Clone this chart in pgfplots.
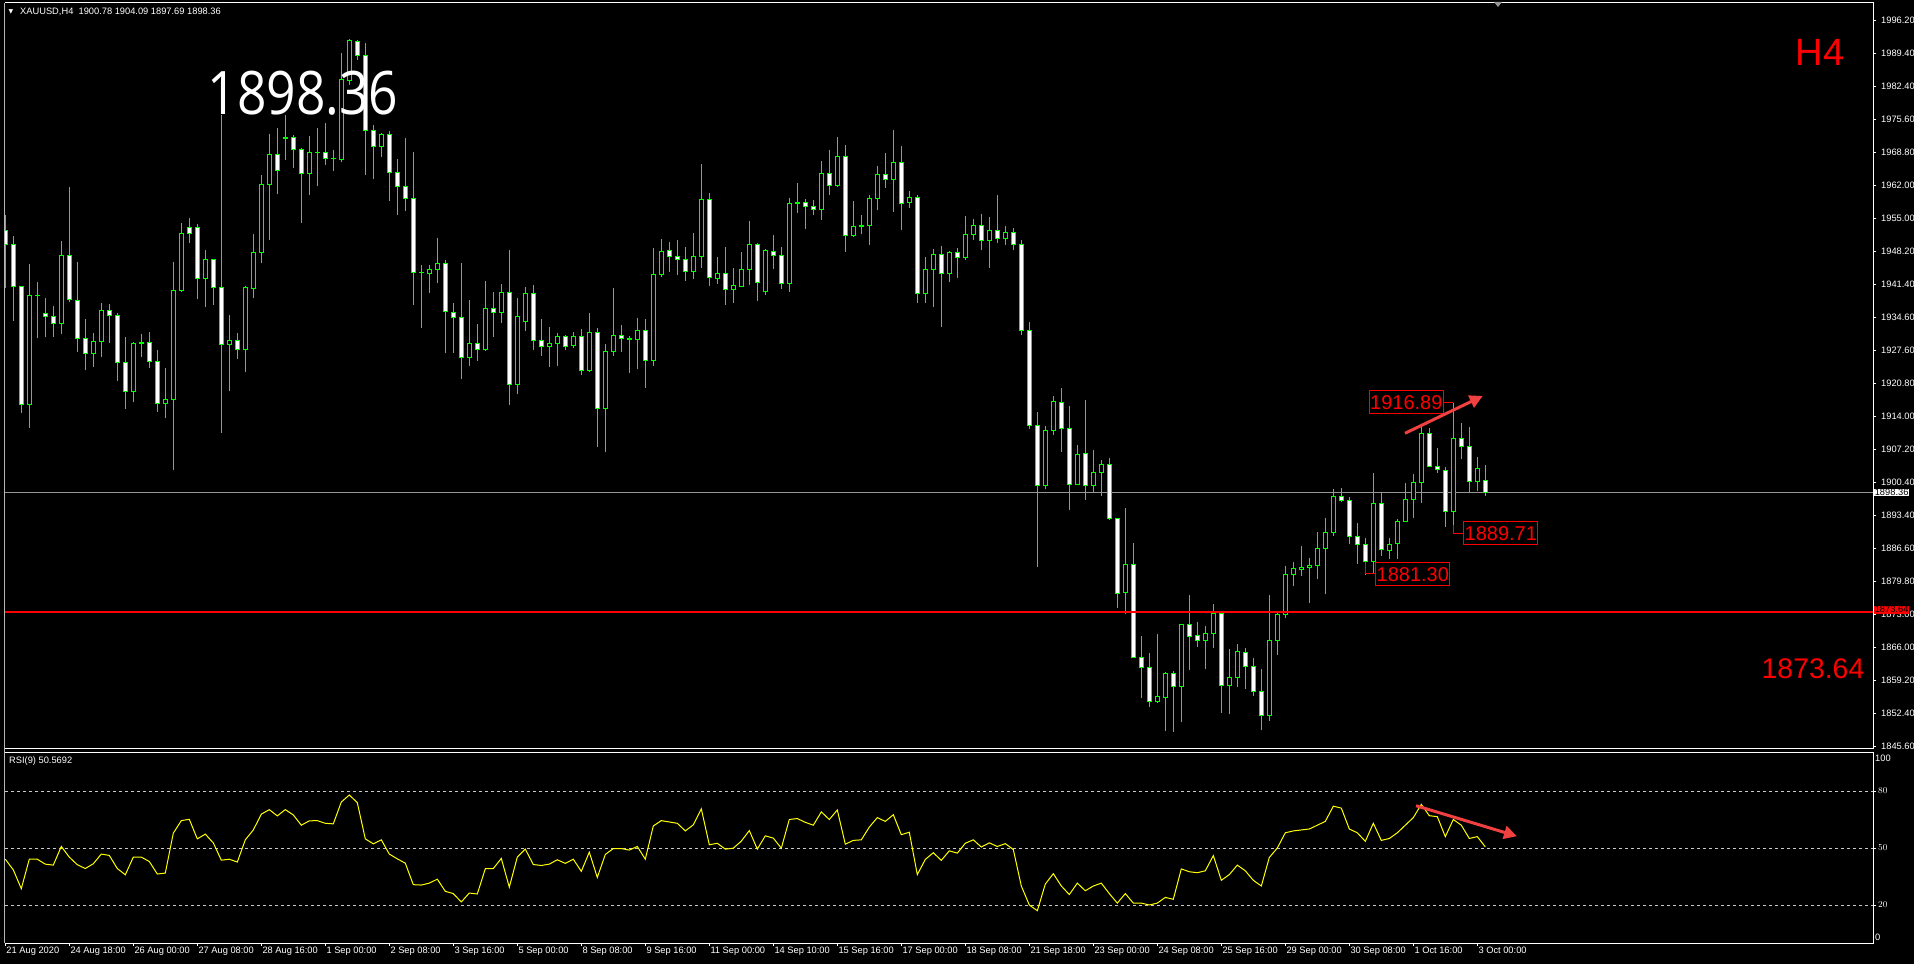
\documentclass[border=0pt]{standalone}
\usepackage{fontspec}
\setmainfont{Liberation Sans}
\newfontfamily\bigfont{Open Sans}
\newfontfamily\symfont{DejaVu Sans}
\usepackage{pgfplots}
\pgfplotsset{compat=1.18}
\usepackage{pgfplotstable}
\usetikzlibrary{arrows.meta}

\definecolor{lime}{RGB}{0,255,0}
\definecolor{rsiyel}{RGB}{255,255,0}
\definecolor{mtred}{RGB}{255,0,0}
\definecolor{arrowred}{RGB}{240,64,64}
\definecolor{pricegray}{RGB}{150,150,150}
\definecolor{dashgray}{RGB}{200,200,200}
\newcommand{\mtfont}{\fontsize{9.3}{10}\selectfont}

% XAUUSD H4 candles, bar index k (0 = 21 Aug 2020 ...), open high low close
\pgfplotstableread{
k o h l c
0 1952.72 1955.90 1940.69 1949.82
1 1949.82 1951.55 1933.98 1941.04
2 1941.04 1941.20 1914.83 1916.49
3 1916.60 1945.67 1911.72 1939.24
4 1939.30 1941.94 1930.32 1939.20
5 1935.37 1938.69 1930.53 1934.88
6 1934.88 1936.96 1930.67 1933.43
7 1933.43 1950.51 1931.15 1947.54
8 1947.54 1961.71 1937.93 1938.27
9 1938.20 1946.08 1927.55 1930.32
10 1930.32 1934.33 1923.82 1927.21
11 1927.21 1931.36 1924.44 1929.70
12 1929.70 1937.58 1926.52 1936.13
13 1936.13 1937.44 1929.42 1935.09
14 1935.09 1935.51 1921.54 1925.34
15 1925.34 1930.60 1915.66 1919.39
16 1919.39 1929.56 1917.10 1929.28
17 1929.28 1931.22 1926.52 1929.35
18 1929.42 1931.63 1924.10 1925.48
19 1925.48 1927.83 1915.03 1916.70
20 1916.70 1924.16 1913.79 1917.67
21 1917.67 1946.15 1903.00 1940.28
22 1940.28 1954.31 1940.00 1952.10
23 1953.28 1955.28 1950.16 1952.10
24 1953.28 1954.04 1938.41 1942.77
25 1942.77 1948.64 1936.89 1946.57
26 1946.57 1946.85 1937.30 1940.90
27 1940.90 1976.58 1910.68 1928.94
28 1928.94 1935.09 1919.32 1929.84
29 1929.84 1931.36 1926.10 1928.04
30 1928.04 1941.18 1923.27 1940.90
31 1940.69 1951.96 1938.76 1948.16
32 1948.16 1964.20 1945.88 1962.27
33 1962.27 1972.71 1950.72 1968.49
34 1968.49 1973.88 1960.33 1965.17
35 1971.80 1976.58 1967.31 1971.90
36 1972.01 1972.43 1965.72 1969.53
37 1969.53 1969.80 1954.31 1964.55
38 1964.55 1972.29 1960.12 1968.83
39 1968.90 1974.02 1961.99 1968.83
40 1968.90 1974.92 1966.34 1967.66
41 1967.66 1969.38 1965.03 1967.55
42 1967.45 1989.51 1966.80 1984.05
43 1983.90 1992.41 1982.87 1992.00
44 1991.85 1992.20 1988.05 1989.09
45 1989.09 1991.58 1964.20 1973.33
46 1973.33 1974.57 1963.37 1970.08
47 1970.08 1972.98 1968.00 1972.70
48 1972.70 1973.32 1958.81 1964.68
49 1964.75 1967.52 1955.90 1961.78
50 1961.85 1971.87 1956.80 1959.29
51 1959.36 1968.97 1937.23 1943.94
52 1943.94 1945.53 1932.53 1943.90
53 1943.73 1945.53 1939.79 1944.63
54 1944.56 1951.13 1941.73 1945.74
55 1945.74 1946.57 1927.21 1935.85
56 1935.71 1937.65 1927.35 1934.67
57 1934.67 1945.88 1921.95 1926.31
58 1926.31 1938.27 1924.58 1929.28
59 1929.28 1933.29 1925.69 1927.97
60 1927.97 1942.21 1927.76 1936.54
61 1936.54 1939.93 1930.66 1935.64
62 1935.64 1941.59 1933.57 1939.86
63 1939.86 1948.64 1916.56 1920.78
64 1920.78 1938.69 1918.84 1934.88
65 1933.78 1940.97 1931.91 1939.52
66 1939.52 1941.38 1927.90 1929.83
67 1929.90 1934.33 1926.72 1928.59
68 1928.59 1932.67 1924.44 1929.28
69 1929.28 1931.36 1924.65 1930.73
70 1930.73 1931.01 1927.90 1928.59
71 1928.80 1931.63 1928.31 1930.73
72 1930.73 1932.25 1922.71 1923.61
73 1923.61 1935.57 1923.40 1931.56
74 1931.56 1932.39 1907.85 1915.73
75 1915.73 1929.14 1906.67 1927.62
76 1927.55 1940.76 1926.72 1930.94
77 1930.94 1933.08 1927.55 1930.25
78 1930.25 1930.80 1923.20 1930.15
79 1930.04 1934.54 1923.89 1931.98
80 1931.98 1934.26 1920.09 1925.69
81 1925.69 1949.06 1924.65 1943.60
82 1943.53 1950.92 1943.11 1948.37
83 1948.57 1950.30 1944.07 1947.26
84 1947.39 1950.71 1943.45 1946.63
85 1946.70 1949.26 1942.28 1944.14
86 1944.14 1952.16 1942.62 1947.32
87 1947.26 1966.48 1944.97 1959.15
88 1959.15 1960.39 1941.24 1942.97
89 1942.69 1947.19 1941.65 1943.80
90 1943.80 1949.26 1937.30 1940.41
91 1940.41 1944.90 1937.71 1941.31
92 1941.03 1948.22 1940.90 1944.63
93 1944.56 1954.65 1941.45 1949.81
94 1949.81 1950.02 1938.13 1941.86
95 1939.99 1948.78 1939.37 1948.57
96 1948.36 1951.75 1944.70 1947.46
97 1947.53 1949.26 1940.62 1941.65
98 1941.65 1959.42 1939.99 1958.32
99 1958.32 1962.54 1956.38 1958.53
100 1958.53 1959.22 1953.06 1957.63
101 1957.70 1959.01 1955.90 1957.00
102 1957.00 1967.10 1954.93 1964.54
103 1964.54 1969.38 1960.05 1961.98
104 1961.98 1972.08 1961.78 1968.07
105 1968.07 1970.42 1948.29 1951.61
106 1951.61 1958.80 1951.40 1953.55
107 1953.55 1955.90 1952.03 1953.65
108 1953.69 1960.05 1949.74 1959.36
109 1959.29 1966.06 1957.00 1964.33
110 1964.33 1968.76 1961.57 1963.23
111 1963.23 1973.53 1956.59 1966.82
112 1966.82 1970.21 1952.86 1958.25
113 1958.46 1960.88 1957.42 1959.56
114 1959.56 1960.05 1937.71 1939.58
115 1939.58 1947.19 1937.71 1944.63
116 1944.56 1948.85 1936.88 1947.74
117 1947.74 1949.47 1932.73 1943.73
118 1943.73 1948.36 1942.07 1948.15
119 1948.15 1949.05 1942.90 1947.05
120 1947.05 1955.69 1946.63 1951.89
121 1951.82 1955.07 1950.78 1953.76
122 1953.76 1956.11 1948.64 1950.57
123 1950.57 1955.48 1944.97 1952.72
124 1952.72 1960.05 1950.16 1950.99
125 1951.07 1953.62 1949.68 1952.37
126 1952.37 1953.20 1948.64 1949.68
127 1949.68 1950.71 1931.01 1932.04
128 1932.04 1933.70 1911.51 1912.27
129 1912.27 1914.97 1882.95 1899.76
130 1899.76 1912.13 1899.00 1911.23
131 1911.23 1918.36 1910.27 1917.25
132 1917.04 1920.02 1906.81 1911.58
133 1911.65 1916.28 1894.71 1899.96
134 1899.96 1908.19 1899.90 1906.26
135 1906.46 1917.53 1896.78 1899.76
136 1899.76 1907.15 1898.51 1902.52
137 1902.52 1905.08 1897.61 1904.18
138 1904.18 1905.50 1892.63 1892.91
139 1892.98 1893.00 1874.45 1877.42
140 1877.56 1895.12 1873.13 1883.44
141 1883.44 1887.86 1864.10 1864.14
142 1864.14 1868.57 1855.78 1862.07
143 1862.07 1865.04 1853.91 1854.95
144 1854.95 1868.99 1854.74 1856.05
145 1855.78 1861.17 1848.93 1860.83
146 1860.83 1861.38 1848.73 1858.06
147 1858.06 1871.00 1850.80 1870.99
148 1870.99 1877.08 1861.52 1868.43
149 1868.71 1871.47 1866.36 1867.60
150 1867.60 1870.65 1861.72 1869.12
151 1869.05 1875.21 1866.15 1873.27
152 1873.27 1873.83 1852.67 1858.27
153 1858.27 1865.87 1852.39 1860.00
154 1860.00 1866.91 1858.06 1865.39
155 1865.18 1866.08 1857.58 1862.21
156 1862.28 1863.94 1856.12 1857.02
157 1857.09 1861.72 1849.07 1852.04
158 1852.04 1877.08 1851.01 1867.67
159 1867.67 1873.55 1864.63 1873.07
160 1873.07 1883.09 1872.37 1881.36
161 1881.36 1883.92 1878.94 1882.61
162 1882.40 1887.24 1881.02 1882.81
163 1882.81 1884.75 1875.49 1883.23
164 1883.16 1890.14 1880.39 1886.76
165 1886.69 1893.05 1877.28 1890.08
166 1890.01 1899.06 1889.31 1897.54
167 1897.54 1899.27 1896.37 1896.71
168 1896.71 1897.34 1887.72 1889.18
169 1889.25 1891.94 1883.51 1887.59
170 1887.59 1888.83 1881.30 1883.99
171 1883.99 1902.31 1881.71 1896.09
172 1896.09 1898.17 1885.23 1886.41
173 1886.34 1888.83 1884.54 1887.59
174 1887.79 1892.84 1884.54 1892.36
175 1892.29 1900.24 1892.29 1896.92
176 1896.92 1902.18 1893.12 1900.45
177 1900.45 1912.34 1896.23 1910.61
178 1910.61 1911.65 1903.70 1903.77
179 1903.70 1907.50 1902.45 1903.01
180 1902.94 1903.56 1891.25 1894.43
181 1894.43 1916.89 1889.71 1909.57
182 1909.57 1912.69 1905.22 1907.92
183 1907.92 1911.86 1898.17 1900.65
184 1900.65 1905.63 1898.58 1903.35
185 1900.78 1904.09 1897.69 1898.36
}\candles
% derived columns for drawing: wick length, body base, up body, down body
\pgfplotstablecreatecol[expr={\thisrow{h}-\thisrow{l}}]{hl}\candles
\pgfplotstablecreatecol[expr={min(\thisrow{o},\thisrow{c})}]{base}\candles
\pgfplotstablecreatecol[expr={max(\thisrow{c}-\thisrow{o},0)}]{up}\candles
\pgfplotstablecreatecol[expr={max(\thisrow{o}-\thisrow{c},0)}]{dn}\candles

% RSI(9)
\pgfplotstableread{
k rsi
0 44.1
1 38.5
2 28.6
3 44.1
4 44.1
5 41.5
6 41.0
7 50.8
8 45.2
9 41.2
10 39.2
11 41.7
12 46.8
13 46.1
14 39.2
15 35.9
16 45.2
17 45.2
18 42.9
19 36.3
20 36.8
21 57.8
22 64.4
23 65.1
24 54.8
25 57.3
26 52.7
27 43.6
28 44.1
29 42.6
30 54.3
31 59.5
32 67.8
33 70.2
34 66.9
35 70.2
36 67.4
37 62.0
38 64.3
39 64.4
40 63.0
41 62.7
42 74.2
43 77.9
44 73.9
45 54.8
46 52.2
47 54.3
48 46.8
49 44.3
50 42.0
51 30.7
52 30.5
53 31.5
54 33.6
55 27.2
56 26.0
57 21.6
58 26.3
59 25.8
60 39.1
61 39.2
62 44.5
63 29.4
64 45.2
65 49.4
66 41.3
67 40.8
68 41.5
69 43.8
70 41.9
71 44.1
72 37.7
73 47.8
74 34.5
75 46.6
76 49.7
77 49.7
78 48.9
79 50.8
80 44.1
81 61.6
82 64.4
83 63.7
84 63.0
85 59.0
86 62.2
87 70.6
88 51.7
89 52.5
90 49.4
91 49.9
92 53.6
93 59.2
94 49.4
95 56.4
96 55.2
97 49.9
98 65.0
99 65.5
100 63.5
101 62.0
102 69.0
103 65.0
104 70.0
105 52.0
106 54.0
107 54.3
108 61.0
109 66.0
110 64.0
111 67.5
112 57.0
113 58.3
114 36.0
115 44.0
116 47.5
117 43.5
118 48.5
119 47.3
120 52.5
121 54.3
122 50.5
123 52.7
124 50.8
125 52.3
126 49.2
127 30.0
128 20.0
129 17.0
130 31.0
131 36.5
132 30.0
133 25.5
134 31.5
135 27.5
136 30.0
137 31.5
138 26.0
139 21.0
140 26.0
141 21.0
142 21.0
143 20.0
144 21.0
145 24.0
146 23.0
147 39.0
148 37.5
149 37.0
150 38.0
151 46.0
152 33.0
153 36.0
154 41.0
155 38.0
156 33.0
157 30.0
158 45.0
159 50.0
160 58.0
161 59.0
162 59.5
163 60.0
164 62.0
165 64.0
166 72.0
167 71.0
168 60.0
169 58.0
170 53.5
171 63.0
172 54.0
173 55.0
174 58.0
175 62.0
176 66.0
177 73.0
178 67.0
179 66.5
180 56.0
181 65.0
182 62.0
183 55.0
184 56.0
185 50.57
}\rsidata

\begin{document}
\begin{tikzpicture}[x=1pt,y=1pt]
\fill[black] (0,0) rectangle (1914,964);
\useasboundingbox (0,0) rectangle (1914,964);

\pgfplotsset{
  mainpanel/.style={at={(5pt,215pt)}, anchor=south west, scale only axis,
    width=1868pt, height=746pt, xmin=-0.0375, xmax=233.4625,
    ymin=1845.13, ymax=1999.88, clip bounding box=upper bound},
}

% wicks and current price line
\begin{axis}[mainpanel, hide axis]
  \addplot[pricegray, line width=1pt] coordinates {(-0.0375,1898.36) (233.4625,1898.36)};
  \addplot[draw=none, error bars/.cd, y dir=plus, y explicit, error mark=none,
    error bar style={draw=lime, solid, line width=1pt}]
    table[x=k, y=l, y error plus=hl] {\candles};
\end{axis}

% candle bodies: hollow = up, white = down
\begin{axis}[mainpanel, hide axis, ybar stacked, bar width=4pt]
  \addplot[draw=none, fill=none] table[x=k, y=base] {\candles};
  \addplot[draw=lime, fill=black, line width=1pt] table[x=k, y=up] {\candles};
  \addplot[draw=lime, fill=white, line width=1pt] table[x=k, y=dn] {\candles};
\end{axis}

% level line and price scale
\begin{axis}[mainpanel, axis line style={draw=none}, xtick=\empty,
    ytick pos=right, yticklabel pos=right, tick align=outside,
    major tick length=3pt, ytick style={white, line width=0.8pt},
    yticklabel style={overlay, font=\mtfont, text=white, anchor=west, inner sep=0pt, xshift=5pt},
    ytick={1996.20,1989.35,1982.51,1975.66,1968.82,1961.97,1955.13,1948.28,1941.44,1934.59,1927.75,1920.90,1914.05,1907.21,1900.36,1893.52,1886.67,1879.83,1872.98,1866.14,1859.29,1852.45,1845.60},
    yticklabels={1996.20,1989.40,1982.40,1975.60,1968.80,1962.00,1955.00,1948.20,1941.40,1934.60,1927.60,1920.80,1914.00,1907.20,1900.40,1893.40,1886.60,1879.80,1873.00,1866.00,1859.20,1852.40,1845.60}]
  \addplot[mtred, line width=2pt] coordinates {(-0.0375,1873.64) (233.4625,1873.64)};
\end{axis}

% RSI panel
\begin{axis}[at={(5pt,21pt)}, anchor=south west, scale only axis,
    width=1868pt, height=190pt, xmin=-0.0375, xmax=233.4625, ymin=0, ymax=100,
    clip bounding box=upper bound,
    axis line style={draw=none},
    ytick={20,50,80}, ytick pos=right, yticklabel pos=right,
    ymajorgrids, grid style={dashgray, dash pattern=on 3pt off 3pt, line width=0.8pt},
    xtick={0,8,...,184}, xtick pos=bottom, tick align=outside,
    major tick length=3pt, tick style={white, line width=0.8pt},
    yticklabel style={overlay, font=\mtfont, text=white, anchor=west, inner sep=0pt, xshift=2pt},
    xticklabel style={overlay, font=\mtfont, text=white, anchor=north west, inner sep=0pt, xshift=1pt, yshift=-1pt},
    xticklabels={21 Aug 2020, 24 Aug 18:00, 26 Aug 00:00, 27 Aug 08:00, 28 Aug 16:00,
      1 Sep 00:00, 2 Sep 08:00, 3 Sep 16:00, 5 Sep 00:00, 8 Sep 08:00, 9 Sep 16:00,
      11 Sep 00:00, 14 Sep 10:00, 15 Sep 16:00, 17 Sep 00:00, 18 Sep 08:00,
      21 Sep 18:00, 23 Sep 00:00, 24 Sep 08:00, 25 Sep 16:00, 29 Sep 00:00,
      30 Sep 08:00, 1 Oct 16:00, 3 Oct 00:00}]
  \addplot[rsiyel, line width=1pt] table[x=k, y=rsi] {\rsidata};
\end{axis}

% panel frames
\draw[white, line width=1pt] (5,961) -- (1873,961) -- (1873,215) -- (5,215);
\draw[white, line width=1pt] (5,211.5) -- (1873,211.5) -- (1873,21) -- (5,21);
\draw[pricegray!70!white, line width=1pt] (4.5,961) -- (4.5,21);

% chart header and indicator name
\node[text=white, inner sep=0pt, font=\symfont\fontsize{6}{6}\selectfont] at (11,952) {▼};
\node[anchor=west, text=white, inner sep=0pt, font=\mtfont] at (20,952) {XAUUSD,H4\ \ 1900.78 1904.09 1897.69 1898.36};
\node[anchor=west, text=white, inner sep=0pt, font=\mtfont] at (9,203.3) {RSI(9) 50.5692};
\fill[pricegray] (1494,962) -- (1502,962) -- (1498,957) -- cycle;

% RSI scale ends
\node[anchor=west, text=white, inner sep=0pt, font=\mtfont] at (1875,206) {100};
\node[anchor=west, text=white, inner sep=0pt, font=\mtfont] at (1875,27) {0};

% price tags on the scale
\node[anchor=west, fill=white, text=black, inner sep=0.6pt, font=\mtfont] at (1874,471.6) {1898.36};
\node[anchor=west, fill=mtred, text=black, inner sep=0.6pt, font=\mtfont] at (1874,354.3) {1873.64};

% annotations
\node[text=white, inner sep=0pt, font=\bigfont\fontsize{60}{60}\selectfont, xscale=0.86] at (303,870.5) {1898.36};
\node[text=mtred, inner sep=0pt, font=\fontsize{38}{38}\selectfont] at (1820,912) {H4};
\node[text=mtred, inner sep=0pt, font=\fontsize{28.4}{28}\selectfont] at (1813,295) {1873.64};

\node[draw=mtred, line width=1pt, fill=black, text=mtred, inner sep=1pt,
  minimum width=74pt, minimum height=23pt, font=\fontsize{20}{20}\selectfont] at (1406.3,561.7) {1916.89};
\node[draw=mtred, line width=1pt, fill=black, text=mtred, inner sep=1pt,
  minimum width=73pt, minimum height=23pt, font=\fontsize{20}{20}\selectfont] at (1500.8,430.5) {1889.71};
\node[draw=mtred, line width=1pt, fill=black, text=mtred, inner sep=1pt,
  minimum width=73pt, minimum height=23pt, font=\fontsize{20}{20}\selectfont] at (1412.8,389.8) {1881.30};
\draw[mtred, line width=1pt] (1443.3,561.7) -- (1453.3,561.7);
\draw[mtred, line width=1pt] (1453.3,439) -- (1453.3,430.7) -- (1464.3,430.7);
\draw[mtred, line width=1pt] (1365.3,402.3) -- (1365.3,390) -- (1376.3,390);

\draw[arrowred, line width=3pt, -{Triangle[length=13pt,width=13pt]}] (1405,530.7) -- (1482.7,568);
\draw[arrowred, line width=3pt, -{Triangle[length=13pt,width=13pt]}] (1416,158.3) -- (1517,127.8);
\end{tikzpicture}
\end{document}
